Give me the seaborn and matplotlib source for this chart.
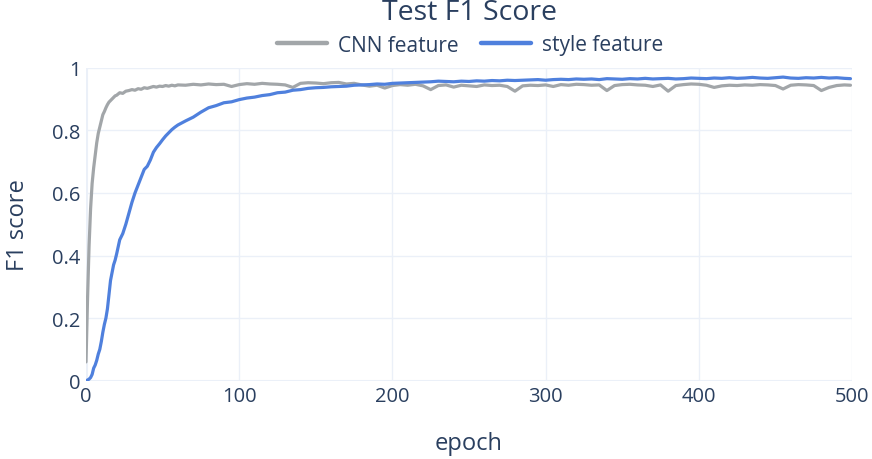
import pandas as pd
import numpy as np
import matplotlib
matplotlib.use("Agg")
import matplotlib.pyplot as plt
import seaborn as sns

sns.set_theme(style="white")
plt.rcParams['font.family'] = ['Open Sans', 'DejaVu Sans']

epochs = list(range(0, 21)) + list(range(22, 61, 2)) + list(range(65, 496, 5)) + [499]

# CNN feature test F1
cnn_f1 = [0.06, 0.26, 0.43, 0.55, 0.63, 0.68, 0.72, 0.76, 0.79, 0.81,
          0.83, 0.85, 0.86, 0.872, 0.882, 0.89, 0.895, 0.90, 0.905, 0.91,
          0.912,
          0.92, 0.918, 0.925, 0.927, 0.93, 0.928, 0.933, 0.931, 0.936, 0.934,
          0.937, 0.94, 0.938, 0.941, 0.94, 0.943, 0.941, 0.944, 0.942, 0.945,
          0.944, 0.947, 0.945, 0.948, 0.946, 0.947, 0.94, 0.946, 0.949, 0.947,
          0.95, 0.948, 0.947, 0.945, 0.937, 0.95, 0.952, 0.951, 0.949, 0.952,
          0.953, 0.948, 0.95, 0.945, 0.941, 0.944, 0.935, 0.943, 0.946, 0.944,
          0.947, 0.942, 0.93, 0.943, 0.945, 0.938, 0.944, 0.942, 0.94, 0.945,
          0.943, 0.944, 0.94, 0.925, 0.942, 0.944, 0.943, 0.945, 0.94, 0.946,
          0.944, 0.947, 0.946, 0.944, 0.945, 0.927, 0.943, 0.946, 0.947, 0.945,
          0.944, 0.94, 0.945, 0.925, 0.943, 0.946, 0.948, 0.947, 0.944, 0.937,
          0.942, 0.944, 0.943, 0.945, 0.944, 0.946, 0.945, 0.943, 0.932, 0.944,
          0.946, 0.945, 0.943, 0.927, 0.937, 0.943, 0.945, 0.944]

# style feature test F1
style_f1 = [0.0, 0.002, 0.005, 0.01, 0.02, 0.04, 0.05, 0.065, 0.085, 0.1,
            0.125, 0.155, 0.18, 0.2, 0.23, 0.275, 0.32, 0.345, 0.37, 0.385,
            0.405,
            0.45, 0.47, 0.5, 0.535, 0.57, 0.6, 0.625, 0.65, 0.675, 0.685,
            0.705, 0.73, 0.745, 0.757, 0.77, 0.782, 0.792, 0.802, 0.81, 0.817,
            0.83, 0.842, 0.858, 0.872, 0.879, 0.888, 0.891, 0.898, 0.903, 0.906,
            0.911, 0.914, 0.92, 0.922, 0.928, 0.93, 0.934, 0.936, 0.937, 0.939,
            0.94, 0.941, 0.944, 0.945, 0.946, 0.948, 0.947, 0.95, 0.951, 0.952,
            0.953, 0.954, 0.955, 0.957, 0.956, 0.955, 0.957, 0.956, 0.958, 0.957,
            0.959, 0.958, 0.96, 0.959, 0.96, 0.961, 0.962, 0.96, 0.962, 0.963,
            0.962, 0.964, 0.963, 0.964, 0.962, 0.965, 0.964, 0.963, 0.965, 0.964,
            0.966, 0.964, 0.965, 0.966, 0.964, 0.965, 0.967, 0.966, 0.965, 0.967,
            0.966, 0.968, 0.966, 0.967, 0.969, 0.967, 0.966, 0.968, 0.97, 0.967,
            0.966, 0.968, 0.967, 0.969, 0.967, 0.968, 0.966, 0.965]

labels = ['CNN feature', 'style feature']
colors = ['#a2a6a9', '#4f80dd']

df = pd.DataFrame({
    'epoch': epochs * 2,
    'F1': cnn_f1 + style_f1,
    'feature': [labels[0]] * len(epochs) + [labels[1]] * len(epochs),
})

text_col = '#2a3f5f'
grid_col = '#ebf0f8'

fig = plt.figure(figsize=(8.72, 4.6), dpi=100)
ax = fig.add_axes([86 / 872, 1 - 381.7 / 460, (852 - 86) / 872, (381.7 - 68.7) / 460])

sns.lineplot(data=df, x='epoch', y='F1', hue='feature', palette=colors,
             linewidth=2.3, ax=ax, legend=False, zorder=3)

ax.set_xlim(0, 500)
ax.set_ylim(0, 1)
ax.set_xticks([0, 100, 200, 300, 400, 500])
ax.set_yticks([0, 0.2, 0.4, 0.6, 0.8, 1])
ax.set_yticklabels(['0', '0.2', '0.4', '0.6', '0.8', '1'])
ax.tick_params(axis='both', length=0, labelsize=14.5, colors=text_col, pad=4)
ax.grid(True, color=grid_col, linewidth=1)
ax.axhline(0, color=grid_col, linewidth=2.2, zorder=1)
ax.axvline(0, color=grid_col, linewidth=2.2, zorder=1)
for s in ax.spines.values():
    s.set_visible(False)

ax.set_xlabel('epoch', fontsize=17, color=text_col, labelpad=18)
ax.set_ylabel('F1 score', fontsize=17, color=text_col, labelpad=16)

fig.text(469 / 872, 1 - 13 / 460, 'Test F1 Score', ha='center', va='center',
         fontsize=20.5, color=text_col)

handles = [plt.Line2D([], [], color=c, linewidth=3.2) for c in colors]
fig.legend(handles, labels, loc='center', bbox_to_anchor=(470 / 872, 1 - 46 / 460),
           ncol=2, frameon=False, fontsize=15, handlelength=2.4,
           columnspacing=1.1, handletextpad=0.5, labelcolor=text_col)

fig.savefig('out.png', dpi=100)
